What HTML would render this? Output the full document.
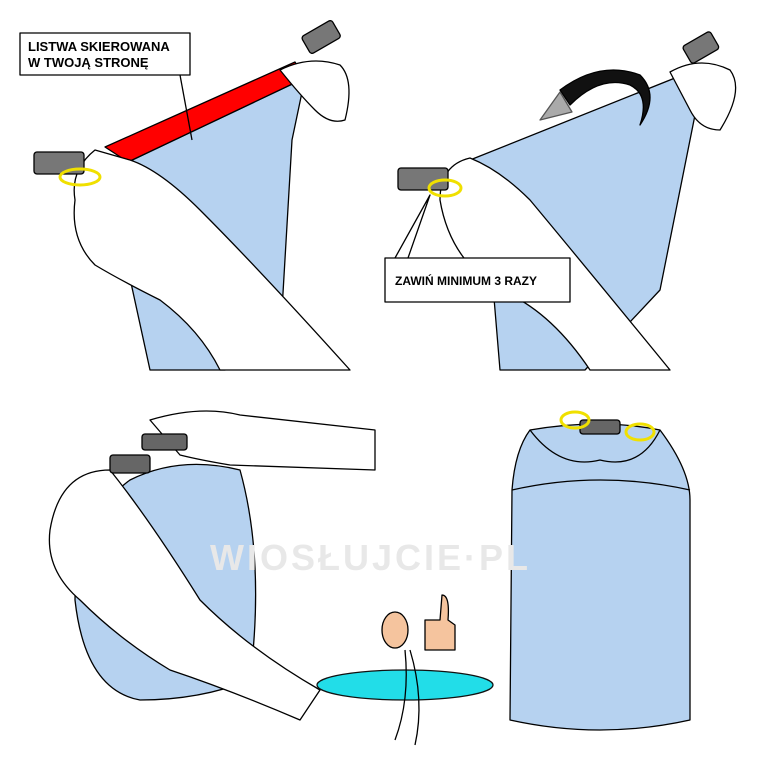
<!DOCTYPE html>
<html><head><meta charset="utf-8"><style>
html,body{margin:0;padding:0;background:#fff;}
svg{display:block;}
text{font-family:"Liberation Sans",sans-serif;font-weight:bold;}
</style></head><body>
<svg width="760" height="760" viewBox="0 0 760 760" xmlns="http://www.w3.org/2000/svg">
<rect width="760" height="760" fill="#fff"/>
<g stroke="#000" stroke-width="1.3" stroke-linejoin="round">
<!-- Panel 1 -->
<polygon points="128,162 305,78 292,140 282,310 225,370 150,370 126,260" fill="#b6d2f0"/>
<polygon points="105,147 295,62 305,78 128,162" fill="#f00"/>
<path d="M75,200 Q70,170 95,150 L130,160 Q160,170 200,210 Q260,270 350,370 L220,370 Q200,330 160,300 Q120,280 95,265 Q70,240 75,200Z" fill="#fff"/>
<path d="M280,70 Q310,55 340,65 Q355,80 345,120 Q330,125 315,110 Q300,95 280,70Z" fill="#fff"/>
<rect x="34" y="152" width="50" height="22" rx="3" fill="#777"/>
<ellipse cx="80" cy="177" rx="20" ry="8" fill="none" stroke="#f0e000" stroke-width="3"/>
<rect x="305" y="28" width="35" height="20" rx="3" fill="#777" transform="rotate(-30 320 40)"/>
<rect x="20" y="33" width="170" height="42" fill="#fff"/>
<polyline points="180,75 192,140" fill="none"/>
</g>
<text x="28" y="51" font-size="13">LISTWA SKIEROWANA</text>
<text x="28" y="67" font-size="13">W TWOJĄ STRONĘ</text>
<!-- Panel 2 -->
<g stroke="#000" stroke-width="1.3" stroke-linejoin="round">
<polygon points="470,160 690,72 695,115 660,290 585,370 500,370 490,250" fill="#b6d2f0"/>
<path d="M440,200 Q440,165 470,158 Q500,170 530,200 Q580,260 670,370 L590,370 Q550,310 500,290 Q450,260 440,200Z" fill="#fff"/>
<path d="M670,72 Q700,55 730,70 Q745,90 720,130 Q700,130 690,110Z" fill="#fff"/>
<rect x="398" y="168" width="50" height="22" rx="3" fill="#777"/>
<ellipse cx="445" cy="188" rx="16" ry="8" fill="none" stroke="#f0e000" stroke-width="3"/>
<rect x="685" y="38" width="32" height="20" rx="3" fill="#777" transform="rotate(-30 700 48)"/>
<path d="M560,90 Q600,60 640,75 Q660,95 640,125 Q650,95 630,85 Q600,75 570,105Z" fill="#111"/>
<polygon points="540,120 560,92 572,112" fill="#aaa" stroke="#555"/>
<rect x="385" y="258" width="185" height="44" fill="#fff"/>
<polyline points="395,258 430,195 408,258" fill="none"/>
</g>
<text x="395" y="285" font-size="12">ZAWIŃ MINIMUM 3 RAZY</text>
<!-- Panel 3 -->
<g stroke="#000" stroke-width="1.3" stroke-linejoin="round">
<path d="M130,480 Q180,455 240,470 Q265,560 250,680 Q200,700 140,700 Q85,690 75,600 Q75,520 130,480Z" fill="#b6d2f0"/>
<path d="M50,530 Q60,470 110,470 Q150,520 200,600 Q250,650 320,690 L300,720 Q230,690 170,670 Q120,640 80,600 Q45,570 50,530Z" fill="#fff"/>
<path d="M150,420 Q200,405 240,415 L375,430 L375,470 L230,465 Q200,460 180,455Z" fill="#fff"/>
<rect x="142" y="434" width="45" height="16" rx="3" fill="#666"/>
<rect x="110" y="455" width="40" height="18" rx="3" fill="#666"/>
</g>
<!-- Panel 4 -->
<g stroke="#000" stroke-width="1.3" stroke-linejoin="round">
<path d="M530,430 Q600,418 660,430 Q690,470 690,500 L690,720 Q600,740 510,720 L512,490 Q515,450 530,430Z" fill="#b6d2f0"/>
<path d="M512,490 Q600,470 690,490" fill="none"/>
<path d="M530,430 Q560,470 600,460 Q640,470 660,430" fill="none"/>
<rect x="580" y="420" width="40" height="14" rx="3" fill="#666"/>
<ellipse cx="575" cy="420" rx="14" ry="8" fill="none" stroke="#f0e000" stroke-width="3"/>
<ellipse cx="640" cy="432" rx="14" ry="8" fill="none" stroke="#f0e000" stroke-width="3"/>
<ellipse cx="405" cy="685" rx="88" ry="15" fill="#22dde8" stroke="#111"/>
<ellipse cx="395" cy="630" rx="13" ry="18" fill="#f5c49e"/>
<path d="M425,620 L440,620 L442,595 Q450,595 448,620 L455,625 L455,650 L425,650Z" fill="#f5c49e"/>
<path d="M405,650 Q410,700 395,740 M410,650 Q425,700 415,745" fill="none"/>
</g>
<text x="210" y="570" font-size="36" fill="#e8e8e8" font-weight="normal" letter-spacing="3">WIOSŁUJCIE·PL</text>
</svg>
</body></html>
